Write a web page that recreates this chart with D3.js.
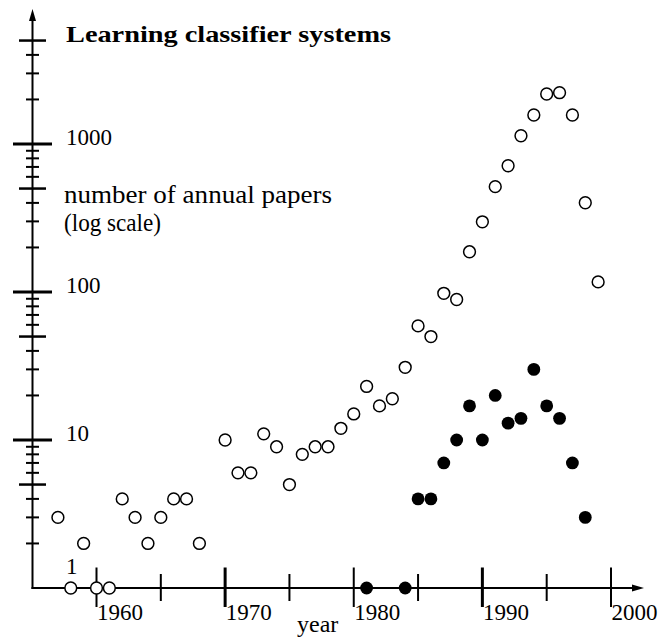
<!DOCTYPE html>
<html>
<head>
<meta charset="utf-8">
<script src="https://cdn.jsdelivr.net/npm/d3@7"></script>
<style>
  html, body { margin: 0; padding: 0; background: #fff; }
  svg { display: block; }
  text { font-family: "Liberation Serif", "DejaVu Serif", serif; fill: #000; }
</style>
</head>
<body>
<svg id="chart" width="667" height="638"></svg>
<script>
// ---- data ----
const openYears  = [1957,1958,1959,1960,1961,1962,1963,1964,1965,1966,1967,1968,
                    1970,1971,1972,1973,1974,1975,1976,1977,1978,1979,1980,1981,
                    1982,1983,1984,1985,1986,1987,1988,1989,1990,1991,1992,1993,
                    1994,1995,1996,1997,1998,1999];
const openValues = [3,1,2,1,1,4,3,2,3,4,4,2,
                    10,6,6,11,9,5,8,9,9,12,15,23,
                    17,19,31,59,50,98,89,187,298,515,713,1137,
                    1570,2177,2222,1570,401,117];
const filledYears  = [1981,1984,1985,1986,1987,1988,1989,1990,1991,1992,1993,1994,1995,1996,1997,1998];
const filledValues = [1,1,4,4,7,10,17,10,20,13,14,30,17,14,7,3];

const xMajorTicks = [1960,1970,1980,1990,2000];
const xThickTicks = [1970,1990];
const xMinorTicks = [1965,1975,1985,1995];
const yMajorTicks = [10,100,1000];
const yMediumTicks = [5,50,500,5000];
const yMinorTicks = [2,3,4,6,7,8,9,20,30,40,60,70,80,90,200,300,400,600,700,800,900,2000,3000,4000];
const yLabels = ["1","10","100","1000"];
const yLabelValues = [1,10,100,1000];

const title = "Learning classifier systems";
const yTitle = ["number of annual papers", "(log scale)"];
const xTitle = "year";

// ---- scales ----
const x = d3.scaleLinear().domain([1960, 2000]).range([96.5, 611]);
const y = d3.scaleLog().domain([1, 10000]).range([588, -4]);

const svg = d3.select("#chart");
const axisX0 = 32.5;   // y-axis position
const axisY0 = y(1);   // x-axis position

// axes lines
svg.append("line").attr("x1", axisX0).attr("x2", axisX0)
  .attr("y1", axisY0 + 1).attr("y2", 20)
  .attr("stroke", "#000").attr("stroke-width", 2);
svg.append("path").attr("d", `M${axisX0},9 L${axisX0-3.5},21 L${axisX0+3.5},21 Z`).attr("fill", "#000");

svg.append("line").attr("x1", axisX0 - 1).attr("x2", 633)
  .attr("y1", axisY0).attr("y2", axisY0)
  .attr("stroke", "#000").attr("stroke-width", 2);
svg.append("path").attr("d", `M644,${axisY0} L632,${axisY0-3.5} L632,${axisY0+3.5} Z`).attr("fill", "#000");

// y ticks
const yt = svg.append("g");
yt.selectAll("line.maj").data(yMajorTicks).join("line")
  .attr("x1", 13).attr("x2", 52).attr("y1", d => y(d)).attr("y2", d => y(d))
  .attr("stroke", "#000").attr("stroke-width", 3);
yt.selectAll("line.med").data(yMediumTicks).join("line").attr("class","med")
  .attr("x1", 19).attr("x2", 46).attr("y1", d => y(d)).attr("y2", d => y(d))
  .attr("stroke", "#000").attr("stroke-width", 2.5);
yt.selectAll("line.min").data(yMinorTicks).join("line").attr("class","min")
  .attr("x1", 26).attr("x2", 39).attr("y1", d => y(d)).attr("y2", d => y(d))
  .attr("stroke", "#000").attr("stroke-width", 2);

// x ticks
const xt = svg.append("g");
xt.selectAll("line.xmaj").data(xMajorTicks).join("line").attr("class","xmaj")
  .attr("x1", d => x(d)).attr("x2", d => x(d)).attr("y1", 567.5).attr("y2", 607)
  .attr("stroke", "#000").attr("stroke-width", d => xThickTicks.includes(d) ? 3 : 2);
xt.selectAll("line.xmin").data(xMinorTicks).join("line").attr("class","xmin")
  .attr("x1", d => x(d)).attr("x2", d => x(d)).attr("y1", 574).attr("y2", 601)
  .attr("stroke", "#000").attr("stroke-width", 2);

xt.selectAll("text").data(xMajorTicks).join("text")
  .attr("x", d => x(d) + 0.5).attr("y", 620)
  .attr("font-size", 23).attr("text-anchor", "start")
  .text(d => d);

// y labels
svg.selectAll("text.ylab").data(yLabelValues).join("text").attr("class","ylab")
  .attr("x", 66).attr("y", (d, i) => d === 1 ? 574 : y(d) + 1)
  .attr("font-size", 23)
  .text((d, i) => yLabels[i]);

// titles
svg.append("text").attr("x", 66).attr("y", 42)
  .attr("font-weight", "bold")
  .attr("font-size", 24).attr("textLength", 325).attr("lengthAdjust", "spacingAndGlyphs")
  .text(title);
svg.append("text").attr("x", 64).attr("y", 203)
  .attr("font-size", 25).attr("textLength", 268).attr("lengthAdjust", "spacingAndGlyphs")
  .text(yTitle[0]);
svg.append("text").attr("x", 64).attr("y", 231)
  .attr("font-size", 25).attr("textLength", 97).attr("lengthAdjust", "spacingAndGlyphs")
  .text(yTitle[1]);
svg.append("text").attr("x", 297).attr("y", 632)
  .attr("font-size", 24).text(xTitle);

// points
const openData = openYears.map((yr, i) => ({yr, v: openValues[i]}));
const filledData = filledYears.map((yr, i) => ({yr, v: filledValues[i]}));

svg.append("g").selectAll("circle").data(openData).join("circle")
  .attr("cx", d => x(d.yr)).attr("cy", d => y(d.v)).attr("r", 5.9)
  .attr("fill", "#fff").attr("stroke", "#000").attr("stroke-width", 1.5);

svg.append("g").selectAll("circle").data(filledData).join("circle")
  .attr("cx", d => x(d.yr)).attr("cy", d => y(d.v)).attr("r", 6.4)
  .attr("fill", "#000");
</script>
</body>
</html>
